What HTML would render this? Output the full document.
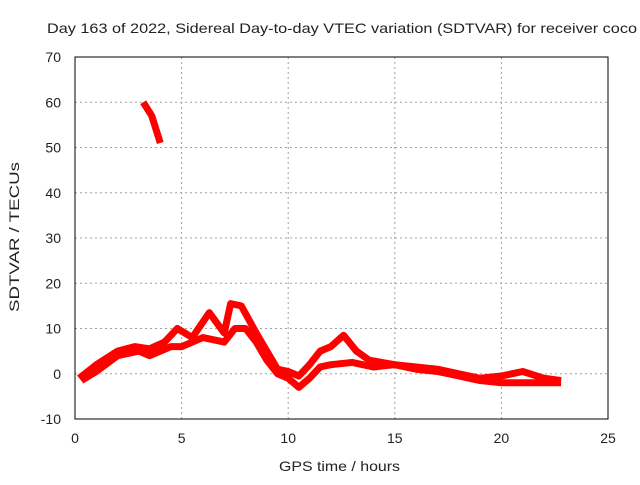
<!DOCTYPE html>
<html><head><meta charset="utf-8"><style>
body{margin:0;background:#fff;}
svg text{font-family:"Liberation Sans",sans-serif;font-size:14px;fill:#222;}
</style></head><body>
<svg id="c" width="640" height="480">
<rect width="640" height="480" fill="#fff"/>
<text x="47" y="33" textLength="590" lengthAdjust="spacingAndGlyphs">Day 163 of 2022, Sidereal Day-to-day VTEC variation (SDTVAR) for receiver coco</text>
<text x="279" y="471" textLength="121" lengthAdjust="spacingAndGlyphs">GPS time / hours</text>
<text transform="translate(19,312) rotate(-90)" textLength="150" lengthAdjust="spacingAndGlyphs">SDTVAR / TECUs</text>
<g id="grid"></g><g id="marks"></g>
<rect x="75" y="57" width="533" height="362" fill="none" stroke="#000"/>
</svg>
<script>
const xTicks=[0,5,10,15,20,25];
const yTicks=[-10,0,10,20,30,40,50,60,70];
const seriesAx=[0.2,1,2,2.8,3.5,4.2,4.8,5.5,6.3,7,7.3,7.8,8.5,9,9.5,10,10.5,11,11.5,12,12.6,13.2,13.8,15,16,17,18,19,20,21,22,22.8];
const seriesAy=[-1,2,5,6,5.5,7,10,8,13.5,9,15.5,15,9,5,1,0.5,-0.5,2,5,6,8.5,5,3,2,1.5,1,0,-1,-0.5,0.5,-1,-1.5];
const seriesBx=[0.3,1,2,3,3.5,4,4.5,5,6,7,7.5,8,8.5,9,9.5,10,10.5,11,11.5,12,13,14,15,16,17,18,19,20,21,22,22.8];
const seriesBy=[-1.5,0.5,4,5,4,5,6,6,8,7,10,10,7,3,0,-1,-3,-1,1.5,2,2.5,1.5,2,1,0.5,-0.5,-1.5,-2,-2,-2,-2];
const seriesCx=[3.2,3.6,4.0];
const seriesCy=[60,57,51];
const X=v=>75+v*533/25, Y=v=>419-(v+10)*362/80;
const ns="http://www.w3.org/2000/svg";
const g=document.getElementById('grid'), m=document.getElementById('marks');
xTicks.forEach(t=>{
 if(t>0&&t<25){const l=document.createElementNS(ns,'line');
 
 
 l.setAttribute('x1',X(t));l.setAttribute('x2',X(t));l.setAttribute('y1',57);l.setAttribute('y2',419);
 l.setAttribute('stroke','#a0a0a0');l.setAttribute('stroke-dasharray','2,3');g.appendChild(l);}
 const tx=document.createElementNS(ns,'text');
 
 
 tx.setAttribute('x',X(t));tx.setAttribute('y',443);tx.setAttribute('text-anchor','middle');tx.textContent=t;g.appendChild(tx);
});
yTicks.forEach(t=>{
 if(t>-10&&t<70){const l=document.createElementNS(ns,'line');
 
 
 l.setAttribute('x1',75);l.setAttribute('x2',608);l.setAttribute('y1',Y(t));l.setAttribute('y2',Y(t));
 l.setAttribute('stroke','#a0a0a0');l.setAttribute('stroke-dasharray','2,3');g.appendChild(l);}
 const tx=document.createElementNS(ns,'text');
 
 
 tx.setAttribute('x',61);tx.setAttribute('y',Y(t)+5);tx.setAttribute('text-anchor','end');tx.textContent=t;g.appendChild(tx);
});
[[seriesAx,seriesAy],[seriesBx,seriesBy],[seriesCx,seriesCy]].forEach((s,i)=>{
 const p=document.createElementNS(ns,'polyline');
 
 
 p.setAttribute('points',s[0].map((x,j)=>X(x)+','+Y(s[1][j])).join(' '));
 p.setAttribute('fill','none');p.setAttribute('stroke','#ff0000');p.setAttribute('stroke-width','7');
 p.setAttribute('stroke-linejoin','round');m.appendChild(p);
});
</script>
</body></html>
